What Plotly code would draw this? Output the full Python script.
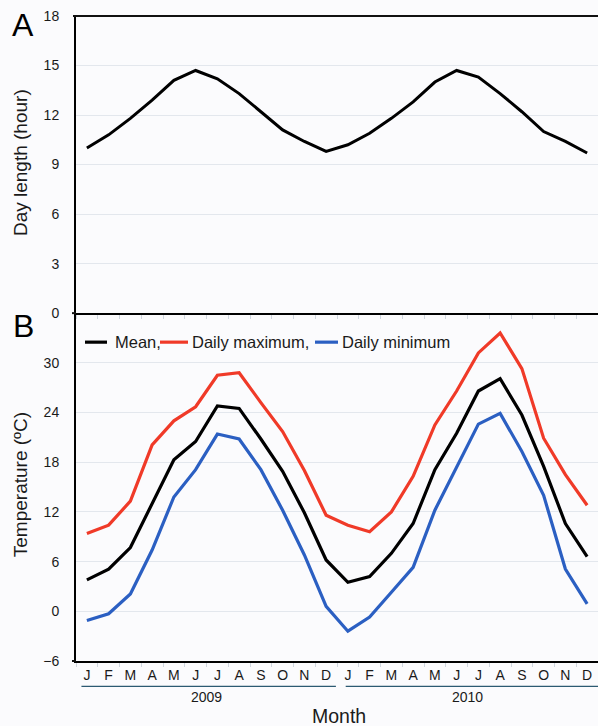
import plotly.graph_objects as go

months = ["J", "F", "M", "A", "M", "J", "J", "A", "S", "O", "N", "D"]
month_labels = months + months
years = ["2009", "2010"]

day_length = [10.0, 10.8, 11.8, 12.9, 14.1, 14.7, 14.2, 13.3, 12.2, 11.1, 10.4, 9.8,
              10.2, 10.9, 11.8, 12.8, 14.0, 14.7, 14.3, 13.3, 12.2, 11.0, 10.4, 9.7]
temp_mean = [3.8, 5.1, 7.7, 13.0, 18.3, 20.5, 24.8, 24.5, 20.8, 16.9, 11.9, 6.2,
             3.5, 4.2, 7.0, 10.6, 17.1, 21.5, 26.6, 28.1, 23.7, 17.5, 10.6, 6.6]
temp_max = [9.4, 10.4, 13.3, 20.1, 23.0, 24.7, 28.5, 28.8, 25.2, 21.7, 17.0, 11.6,
            10.4, 9.6, 12.0, 16.3, 22.5, 26.6, 31.2, 33.6, 29.3, 20.9, 16.5, 12.8]
temp_min = [-1.1, -0.3, 2.1, 7.4, 13.8, 17.1, 21.4, 20.8, 17.1, 12.2, 6.8, 0.6,
            -2.4, -0.7, 2.3, 5.3, 12.2, 17.3, 22.6, 23.9, 19.3, 14.0, 5.1, 0.9]

series_names = ["Mean,", "Daily maximum,", "Daily minimum"]
series_colors = ["#000000", "#f03a28", "#2b5fc2"]

x = list(range(len(month_labels)))

W, H = 598, 726
ML, MR, MT, MB = 76, 0, 16, 65.3
PW, PH = W - ML - MR, H - MT - MB
split_px = 313.0


def px(xp):
    return (xp - ML) / PW


def py(yp):
    return (H - MB - yp) / PH


split = py(split_px)
FONT = "Liberation Sans, Arial, sans-serif"
TXT = "#1a1a1a"
GRID = "#e3e7ed"
BG = "#fbfbfd"

fig = go.Figure()
fig.add_trace(go.Scatter(x=x, y=day_length, mode="lines", xaxis="x", yaxis="y",
                         line=dict(color="#000000", width=3), showlegend=False))
for vals, name, col in zip([temp_mean, temp_max, temp_min], series_names, series_colors):
    fig.add_trace(go.Scatter(x=x, y=vals, mode="lines", name=name, xaxis="x2", yaxis="y2",
                             line=dict(color=col, width=3.2), showlegend=False))

xcommon = dict(range=[-0.5, 23.5], showgrid=False, zeroline=False, showline=True,
               linecolor="#000000", linewidth=2, ticks="", tickvals=x,
               minor=dict(tick0=-0.5, dtick=1, ticks="outside", ticklen=4,
                          tickcolor="#cfd6df", tickwidth=1))

fig.update_layout(
    width=W, height=H,
    margin=dict(l=ML, r=MR, t=MT, b=MB),
    paper_bgcolor=BG, plot_bgcolor=BG,
    font=dict(family=FONT, color=TXT, size=13.5),
    xaxis=dict(xcommon, anchor="y", showticklabels=False),
    yaxis=dict(domain=[split, 1], range=[0, 18], dtick=3, tick0=0,
               showgrid=True, gridcolor=GRID, gridwidth=1, zeroline=False,
               showline=True, linecolor="#000000", linewidth=2,
               ticks="", ticklabelstandoff=12, tickfont=dict(size=14)),
    xaxis2=dict(xcommon, anchor="y2", ticktext=month_labels, showticklabels=True,
                tickfont=dict(size=14), ticklabelstandoff=0),
    yaxis2=dict(domain=[0, split], range=[-6, 36], tickvals=[-6, 0, 6, 12, 18, 24, 30],
                showgrid=True, gridcolor=GRID, gridwidth=1, zeroline=False,
                showline=True, linecolor="#000000", linewidth=2,
                ticks="", ticklabelstandoff=12, tickfont=dict(size=14)),
    showlegend=False,
)

shapes = []
# top border of panel A
shapes.append(dict(type="line", xref="paper", yref="paper", x0=px(73), x1=1,
                   y0=1, y1=1, line=dict(color="#111111", width=2)))
# small tick crosses at axis ends
for yp in [split_px, H - MB]:
    shapes.append(dict(type="line", xref="paper", yref="paper", x0=px(72), x1=px(76),
                       y0=py(yp), y1=py(yp), line=dict(color="#111111", width=2)))

annotations = []
# year underlines and labels
year_spans = [(-0.25, 11.45), (11.9, 23.5)]
for (a, b), yr, center in zip(year_spans, years, [5.5, 17.5]):
    shapes.append(dict(type="line", xref="x2", yref="paper", x0=a, x1=b,
                       y0=py(686), y1=py(686), line=dict(color="#2c5a72", width=1.3)))
    annotations.append(dict(text=yr, xref="x2", yref="paper", x=center, y=py(697),
                            showarrow=False, font=dict(size=14, color=TXT),
                            xanchor="center", yanchor="middle"))

annotations.append(dict(text="Month", xref="paper", yref="paper", x=px(339), y=py(716),
                        showarrow=False, font=dict(size=19.5, color=TXT),
                        xanchor="center", yanchor="middle"))

# axis titles
annotations.append(dict(text="Day length (hour)", xref="paper", yref="paper",
                        x=px(20), y=py(163), textangle=-90, showarrow=False,
                        font=dict(size=19, color=TXT), xanchor="center", yanchor="middle"))
annotations.append(dict(text="Temperature (ºC)", xref="paper", yref="paper",
                        x=px(20), y=py(485), textangle=-90, showarrow=False,
                        font=dict(size=19, color=TXT), xanchor="center", yanchor="middle"))

# panel letters
for letter, yp in [("A", 25), ("B", 326)]:
    annotations.append(dict(text=letter, xref="paper", yref="paper", x=px(23), y=py(yp),
                            showarrow=False, font=dict(size=32, color="#000000"),
                            xanchor="center", yanchor="middle"))

# legend (manual)
leg_y = py(342)
leg_lines = [(85, 107, 113), (160, 188, 190), (315, 338, 340)]
for (l0, l1, tx), name, col in zip(leg_lines, series_names, series_colors):
    shapes.append(dict(type="line", xref="paper", yref="paper", x0=px(l0), x1=px(l1),
                       y0=leg_y, y1=leg_y, line=dict(color=col, width=3.2)))
    annotations.append(dict(text=name, xref="paper", yref="paper", x=px(tx), y=leg_y,
                            showarrow=False, font=dict(size=16.5, color=TXT),
                            xanchor="left", yanchor="middle"))

fig.update_layout(shapes=shapes, annotations=annotations)
fig.write_html("out.html", config={"displayModeBar": False},
               post_script="document.body.style.margin='0';document.body.style.overflow='hidden';")
